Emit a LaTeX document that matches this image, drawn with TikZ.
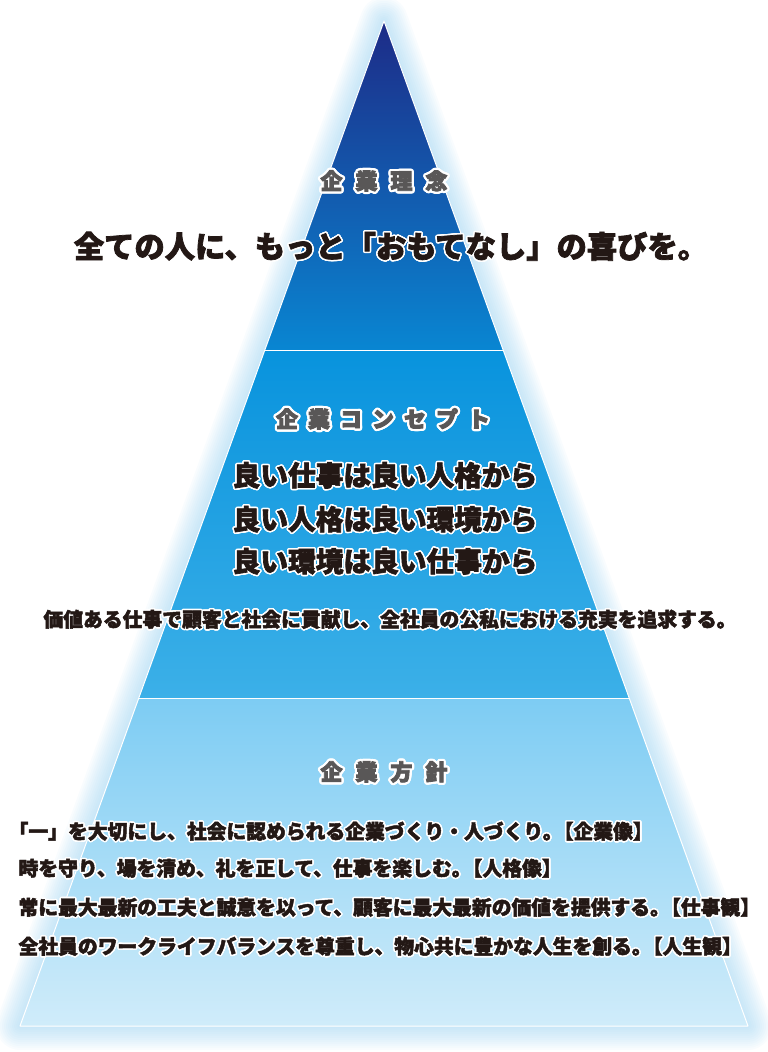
\documentclass[tikz,border=0pt]{standalone}
\usepackage{fontspec}
\usepackage{contour}
\usepackage{tikz}
\usetikzlibrary{calc}

\newfontfamily\jpfont{Noto Sans CJK JP}[BoldFeatures={FakeBold=2.4}]
\newfontfamily\jphead{Noto Sans CJK JP}[BoldFeatures={FakeBold=4}]
\contournumber{24}

\definecolor{navy}{HTML}{1D2B87}
\definecolor{topmid}{HTML}{0E62BE}
\definecolor{topbot}{HTML}{0986D2}
\definecolor{midtop}{HTML}{0893DD}
\definecolor{midbot}{HTML}{3CB0E8}
\definecolor{lowtop}{HTML}{7DCCF3}
\definecolor{lowbot}{HTML}{D0ECFA}
\definecolor{glowblue}{HTML}{8ECCEF}
\definecolor{headgray}{HTML}{595757}
\definecolor{textdark}{HTML}{231815}

\newcommand{\glowhead}[1]{\contourlength{2.2pt}\contour{white}{#1}}
\newcommand{\glowtext}[1]{\contourlength{1.5pt}\contour{white}{#1}}
\newcommand{\tight}{\hspace{-0.45em}}

\begin{document}
\begin{tikzpicture}[x=1pt,y=-1pt,
    glowline/.style={draw=glowblue, opacity=0.05, line join=round},
    heading/.style={text=headgray, font=\jphead\bfseries\fontsize{22}{22}\selectfont},
    slogan/.style={text=textdark, font=\jpfont\bfseries\fontsize{30.3}{31}\selectfont},
    concept/.style={text=textdark, font=\jpfont\bfseries\fontsize{27.7}{28}\selectfont},
    body/.style={text=textdark, font=\jpfont\bfseries\fontsize{19.8}{20}\selectfont}]
    \useasboundingbox (0,0) rectangle (768,1052);

    % Corners of the pyramid and the band edges
    \coordinate (apex) at (384,21);
    \coordinate (bl) at (20,1026);
    \coordinate (br) at (748,1026);
    \coordinate (l1) at ($(apex)!0.3274!(bl)$);
    \coordinate (r1) at ($(apex)!0.3274!(br)$);
    \coordinate (l2) at ($(apex)!0.6746!(bl)$);
    \coordinate (r2) at ($(apex)!0.6746!(br)$);

    % Soft glow round the pyramid
    \foreach \w in {4,8,...,48}
        \draw[glowline, line width=\w] (apex) -- (bl) -- (br) -- cycle;

    % The three bands
    \shade[top color=navy, middle color=topmid, bottom color=topbot] (apex) -- (r1) -- (l1) -- cycle;
    \shade[top color=midtop, bottom color=midbot] (l1) -- (r1) -- (r2) -- (l2) -- cycle;
    \shade[top color=lowtop, bottom color=lowbot] (l2) -- (r2) -- (br) -- (bl) -- cycle;

    % White edges and separators
    \draw[white, line width=1pt, line join=round] (apex) -- (bl) -- (br) -- cycle;
    \draw[white, line width=1pt] (l1) -- (r1);
    \draw[white, line width=1pt] (l2) -- (r2);

    % Top band
    \node[heading] (rinen) at (384,182) {\glowhead{企\hspace{13pt}業\hspace{13pt}理\hspace{13pt}念}};
    \node[slogan] (slogan) at (391,247) {\glowtext{全ての人に、もっと「おもてなし」の喜びを。}};

    % Middle band
    \node[heading] (concept) at (383,420) {\glowhead{企\hspace{10pt}業\hspace{10pt}コ\hspace{10pt}ン\hspace{10pt}セ\hspace{10pt}プ\hspace{10pt}ト}};
    \node[concept] (c1) at (385,476) {\glowtext{良い仕事は良い人格から}};
    \node[concept] (c2) at (385,520) {\glowtext{良い人格は良い環境から}};
    \node[concept] (c3) at (385,562) {\glowtext{良い環境は良い仕事から}};
    \node[body] (mission) at (390,620) {\glowtext{価値ある仕事で顧客と社会に貢献し、全社員の公私における充実を追求する。}};

    % Bottom band
    \node[heading] (hoshin) at (384,773) {\glowhead{企\hspace{13pt}業\hspace{13pt}方\hspace{13pt}針}};
    \node[body, anchor=west] (p1) at (15,832) {\glowtext{\hspace{-0.5em}「一」を大切にし、社会に認められる企業づくり・人づくり。\tight【企業像】}};
    \node[body, anchor=west] (p2) at (15,869) {\glowtext{時を守り、場を清め、礼を正して、仕事を楽しむ。\tight【人格像】}};
    \node[body, anchor=west] (p3) at (15,908) {\glowtext{常に最大最新の工夫と誠意を以って、顧客に最大最新の価値を提供する。\tight【仕事観】}};
    \node[body, anchor=west] (p4) at (15,947) {\glowtext{全社員のワークライフバランスを尊重し、物心共に豊かな人生を創る。\tight【人生観】}};
\end{tikzpicture}
\end{document}
